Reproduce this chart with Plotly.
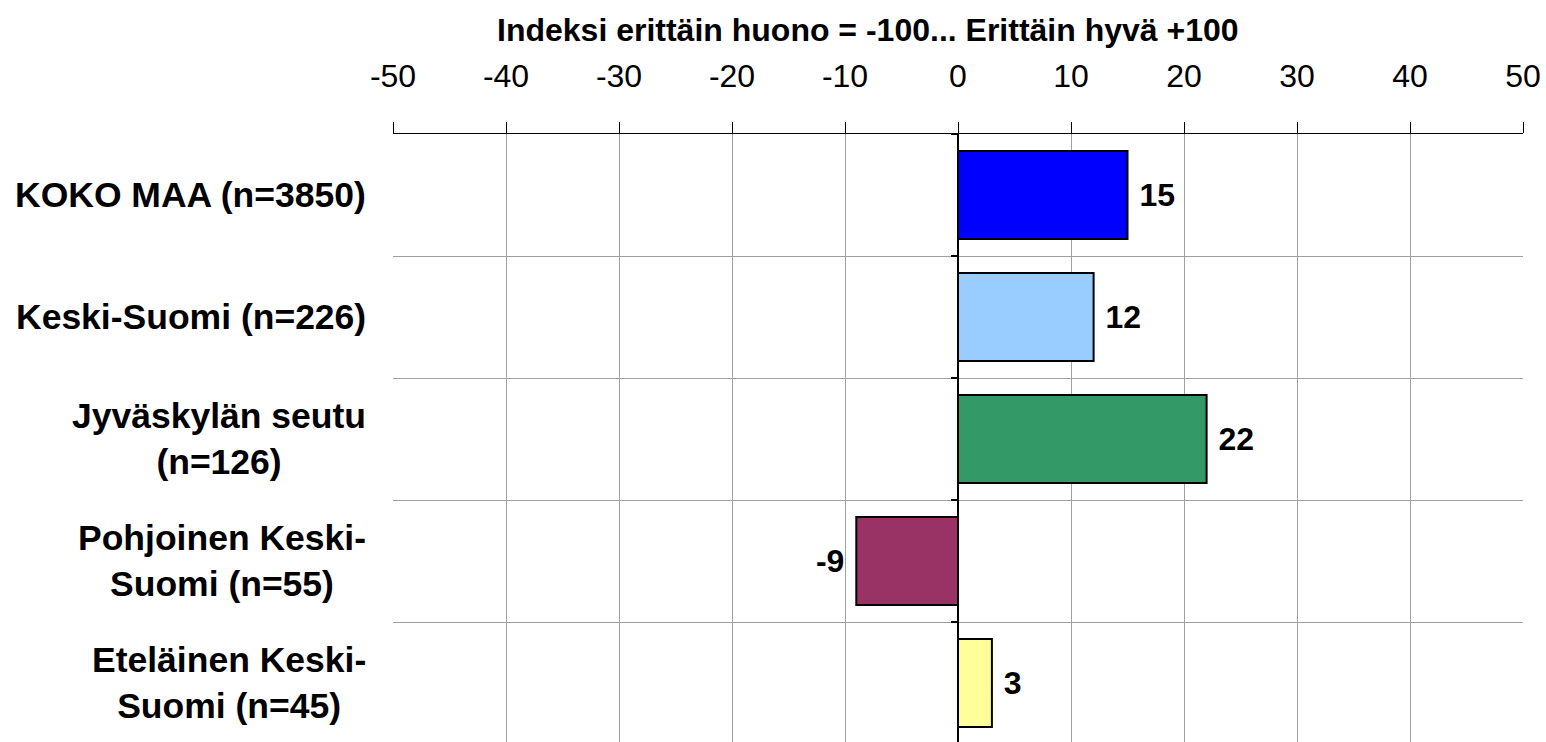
import plotly.graph_objects as go

categories = ["KOKO MAA (n=3850)", "Keski-Suomi (n=226)", "Jyväskylän seutu<br>(n=126)",
              "Pohjoinen Keski-<br>Suomi (n=55)", "Eteläinen Keski-<br>Suomi (n=45)"]
values = [15, 12, 22, -9, 3]
colors = ["#0000FF", "#99CCFF", "#339966", "#993366", "#FFFF99"]
tick_vals = [-50, -40, -30, -20, -10, 0, 10, 20, 30, 40, 50]
title_text = "Indeksi erittäin huono = -100... Erittäin hyvä +100"

FONT = "Liberation Sans, Arial, sans-serif"
ypos = list(range(len(categories)))
labels = [f" {v}" if v >= 0 else f"{v} " for v in values]

W, H = 1546, 742
ml, mr, mt, mb = 393, 23, 134, 0
pw, ph = W - ml - mr, H - mt - mb

fig = go.Figure()
fig.add_trace(go.Bar(
    x=values, y=ypos, orientation="h", width=0.72,
    marker=dict(color=colors, line=dict(color="black", width=2)),
    text=labels, textposition="outside", constraintext="none", cliponaxis=False,
    textfont=dict(family=FONT, size=32, color="black", weight="bold"),
    hoverinfo="skip",
))

for i, c in enumerate(categories):
    fig.add_annotation(
        x=0, xref="paper", y=i, yref="y", text=f"<b>{c}</b>", showarrow=False,
        xanchor="right", yanchor="middle", align="center", xshift=-25,
        font=dict(family=FONT, size=35.5, color="black"),
    )

fig.add_annotation(
    x=(868 - ml) / pw, xref="paper", y=(H - mb - 30) / ph, yref="paper",
    text=f"<b>{title_text}</b>", showarrow=False,
    xanchor="center", yanchor="middle",
    font=dict(family=FONT, size=32, color="black"),
)

fig.update_layout(
    width=W, height=H,
    margin=dict(l=ml, r=mr, t=mt, b=mb, pad=0),
    paper_bgcolor="white", plot_bgcolor="white",
    showlegend=False, bargap=0.28,
    xaxis=dict(
        side="top", range=[-50, 50], tickvals=tick_vals, ticktext=[str(v) for v in tick_vals],
        showgrid=True, gridcolor="#A0A0A0", gridwidth=1,
        zeroline=False, showline=True, linecolor="black", linewidth=1,
        ticks="outside", ticklen=11, tickcolor="black", tickwidth=1,
        ticklabelstandoff=22,
        tickfont=dict(family=FONT, size=32, color="black"),
        fixedrange=True,
    ),
    yaxis=dict(
        range=[4.5 - 2 / 122, -0.5],
        tickvals=[-0.5, 0.5, 1.5, 2.5, 3.5, 4.5],
        showticklabels=False,
        showgrid=True, gridcolor="#A0A0A0", gridwidth=1,
        zeroline=False, showline=True, linecolor="black", linewidth=1.5,
        ticks="outside", ticklen=6, tickcolor="black", tickwidth=1.5,
        anchor="free", position=0.5,
        fixedrange=True,
    ),
)

fig.write_html("out.html", config={"displayModeBar": False},
               post_script="document.body.style.margin='0';document.body.style.overflow='hidden';")
